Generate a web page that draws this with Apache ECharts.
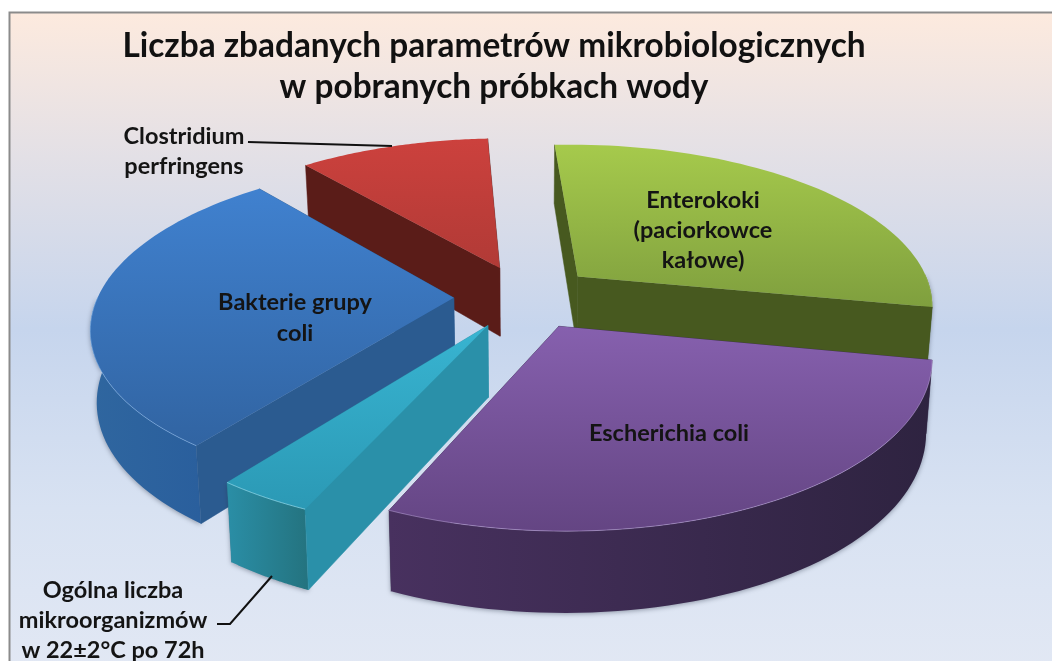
<!DOCTYPE html>
<html><head><meta charset="utf-8">
<style>html,body{margin:0;padding:0;background:#fff}#c{width:1052px;height:661px}</style>
<script src="https://cdn.jsdelivr.net/npm/echarts@6/dist/echarts.min.js"></script>
</head><body><div id="c"></div>
<script>
// --- data ---
const categories = ['Enterokoki (paciorkowce kałowe)','Escherichia coli','Ogólna liczba mikroorganizmów w 22±2°C po 72h','Bakterie grupy coli','Clostridium perfringens'];
const values = [24,23.7,3,23.8,8.5];
const titleLines = ['Liczba zbadanych parametrów mikrobiologicznych','w pobranych próbkach wody'];
const labelLines = [['Enterokoki','(paciorkowce','kałowe)'],['Escherichia coli'],['Ogólna liczba','mikroorganizmów','w 22±2°C po 72h'],['Bakterie grupy','coli'],['Clostridium','perfringens']];

// --- style and projection ---
const palette = [
 {top:['#a6ca4c','#7f9f3e'],radial:'#47591f',outer:['#4d6122','#3f501b'],rim:'rgba(210,235,140,0.25)'},
 {top:['#8660ae','#644583'],radial:'#3a2a4e',outer:['#48315f','#2e2340'],rim:'rgba(205,180,235,0.45)'},
 {top:['#38b4d1','#2b99b5'],radial:'#2a90a9',outer:['#2a8ea6','#24737f'],rim:'rgba(170,235,250,0.6)'},
 {top:['#4081cf','#3164a2'],radial:'#2b5b90',outer:['#2f669f','#2a5f9d'],rim:'rgba(150,195,245,0.5)'},
 {top:['#cc413d','#b13a36'],radial:'#5a1c18',outer:['#5a1c18','#5a1c18'],rim:'rgba(0,0,0,0)'}
];
const P = {cx:525, cy:297, A:356, B:160, k:0.166, explode:0.2, startDeg:-93, depthBase:70, depthSlope:10, bottomScale:0.985};
const labelPos = [[703,[200,230,260]],[669,[433]],[113,[590,620,650]],[295,[302,333]],[184,[136,166]]];

const total = values.reduce((a,b)=>a+b,0);
const slices = []; let acc = P.startDeg;
values.forEach((v,i)=>{const s=acc*Math.PI/180; acc+=v/total*360; const e=acc*Math.PI/180; slices.push({i,s,e,m:(s+e)/2});});
const order = slices.slice().sort((a,b)=>Math.sin(a.m)-Math.sin(b.m)).map(d=>d.i);

function topPt(X,Y){const w=1-P.k*Y; return [P.cx+P.A*X/w, P.cy+P.B*Y/w];}
function botPt(X,Y){const t=topPt(X,Y); return [P.cx+(t[0]-P.cx)*P.bottomScale, t[1]+P.depthBase+P.depthSlope*Y];}
const G = echarts.graphic;
const vg = c => new G.LinearGradient(0,0,0,1,[{offset:0,color:c[0]},{offset:1,color:c[1]}]);
const hg = c => new G.LinearGradient(0,0,1,0,[{offset:0,color:c[0]},{offset:1,color:c[1]}]);

function renderItem(params, api){
  const d = slices[api.value(0)], col = palette[d.i];
  const ax = P.explode*Math.cos(d.m), ay = P.explode*Math.sin(d.m);
  const arc = [], frontTop = [], frontBot = [];
  for(let j=0;j<=60;j++){
    const t=d.s+(d.e-d.s)*j/60; const p=[ax+Math.cos(t), ay+Math.sin(t)]; arc.push(p);
    if(Math.sin(t)>-0.02){frontTop.push(topPt(p[0],p[1])); frontBot.push(botPt(p[0],p[1]));}
  }
  const topArc = arc.map(p=>topPt(p[0],p[1])), botArc = arc.map(p=>botPt(p[0],p[1]));
  const A0 = topPt(ax,ay), A1 = botPt(ax,ay);
  const wall = (a,b)=>({type:'polygon',shape:{points:[A0,a,b,A1]},style:{fill:col.radial,stroke:col.radial,lineWidth:0.5}});
  const startWall = wall(topArc[0],botArc[0]), endWall = wall(topArc[60],botArc[60]);
  const startSeen = Math.cos(d.s)<0, endSeen = Math.cos(d.e)>0;
  const kids = [];
  if(!startSeen) kids.push(startWall);
  if(!endSeen) kids.push(endWall);
  if(frontTop.length>1) kids.push({type:'polygon',shape:{points:frontTop.concat(frontBot.slice().reverse())},
      style:{fill:hg(col.outer),shadowBlur:5,shadowColor:'rgba(40,50,70,0.45)',shadowOffsetY:1}});
  if(startSeen) kids.push(startWall);
  if(endSeen) kids.push(endWall);
  kids.push({type:'polygon',shape:{points:[A0].concat(topArc)},style:{fill:vg(col.top)}});
  if(frontTop.length>1) kids.push({type:'polyline',shape:{points:frontTop},style:{fill:null,stroke:col.rim,lineWidth:1}});
  return {type:'group',children:kids};
}

const textEls = labelLines.flatMap((lines,i)=>lines.map((t,j)=>({
  type:'text',z:100,x:labelPos[i][0],y:labelPos[i][1][j],
  style:{text:t,font:'bold 23.5px Lato, "Open Sans", sans-serif',fill:'#141414',align:'center',verticalAlign:'middle'}
})));
const titleEls = titleLines.map((t,j)=>({
  type:'text',z:100,x:494,y:46+41*j,
  style:{text:t,font:'bold 33.4px Lato, "Open Sans", sans-serif',fill:'#111',align:'center',verticalAlign:'middle'}
}));

const chart = echarts.init(document.getElementById('c'),null,{renderer:'canvas'});
chart.setOption({
  animation:false,
  backgroundColor:'#fff',
  graphic:{elements:[
    {type:'rect',z:-10,shape:{x:9.5,y:12.5,width:1060,height:660},
      style:{stroke:'#8b8b8b',lineWidth:2,fill:new G.LinearGradient(0,0,0,1,[
        {offset:0,color:'#fdeade'},{offset:0.22,color:'#e3e0e6'},{offset:0.48,color:'#c6d5ed'},{offset:0.75,color:'#d8e2f2'},{offset:1,color:'#e2e8f4'}])}},
    {type:'polyline',z:100,shape:{points:[[248,142],[392,146]]},style:{fill:null,stroke:'#111',lineWidth:2}},
    {type:'polyline',z:100,shape:{points:[[217,624],[230,624],[272,576]]},style:{fill:null,stroke:'#111',lineWidth:2}}
  ].concat(titleEls,textEls)},
  series:[{type:'custom',coordinateSystem:'none',silent:true,clip:false,renderItem,
    data:order.map(i=>[i]),encode:{}}]
});
</script></body></html>
